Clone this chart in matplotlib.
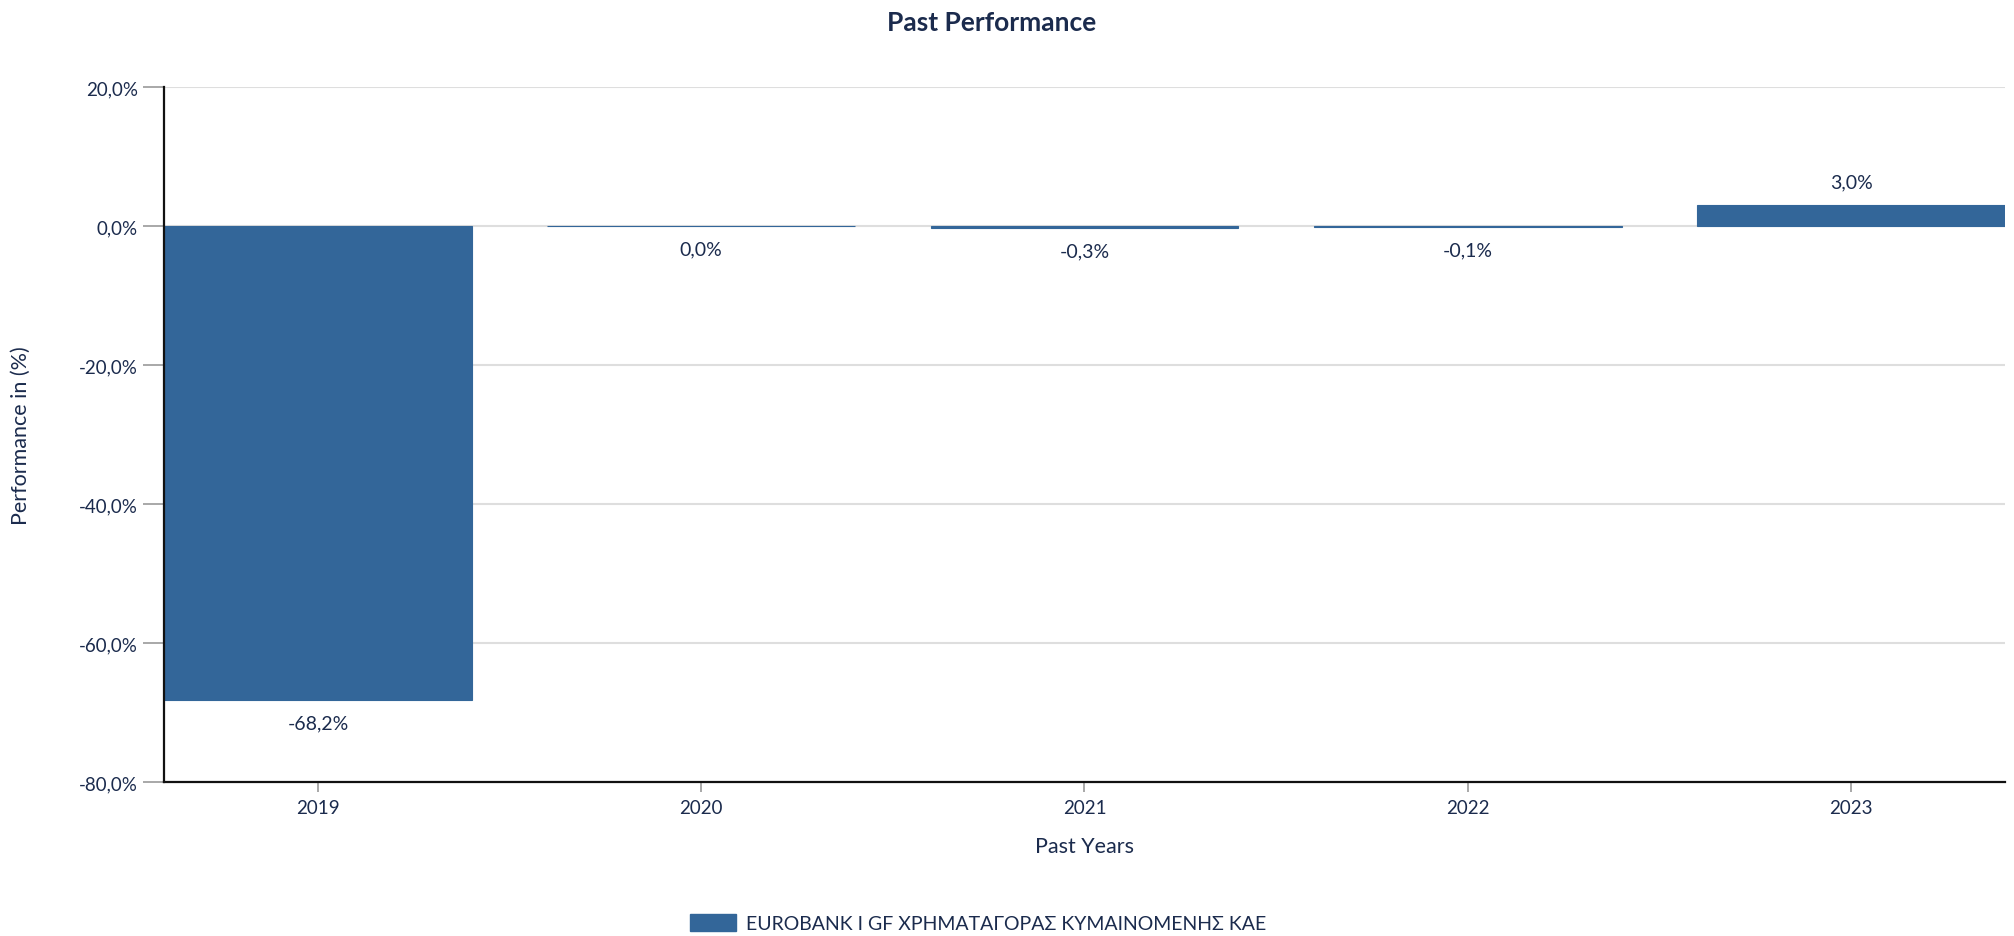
import matplotlib
matplotlib.use("Agg")
import matplotlib.pyplot as plt
from matplotlib.patches import Patch

years = ["2019", "2020", "2021", "2022", "2023"]
values = [-68.2, 0.0, -0.3, -0.1, 3.0]
value_labels = ["-68,2%", "0,0%", "-0,3%", "-0,1%", "3,0%"]
yticks = [20, 0, -20, -40, -60, -80]
ytick_labels = ["20,0%", "0,0%", "-20,0%", "-40,0%", "-60,0%", "-80,0%"]
series_name = "EUROBANK I GF ΧΡΗΜΑΤΑΓΟΡΑΣ ΚΥΜΑΙΝΟΜΕΝΗΣ ΚΑΕ"

plt.rcParams['font.family'] = ['Lato', 'DejaVu Sans']
TXT = "#1b2b4d"
BAR = "#336699"

W, H = 2015, 937
fig = plt.figure(figsize=(W / 100, H / 100), dpi=100)
L, R, T, B = 164, 2005, 88, 783
ax = fig.add_axes([L / W, 1 - B / H, (R - L) / W, (B - T) / H])

bw = 308 / 383.5
x = list(range(len(years)))
ax.bar(x, values, width=bw, color=BAR, edgecolor=BAR, linewidth=0.8, zorder=3)
ax.set_xlim(-bw / 2, len(years) - 1 + bw / 2)
ax.set_ylim(-80, 20)

for xi, v, lab in zip(x, values, value_labels):
    off = 17 if v > 0 else -16.5
    ax.annotate(lab, xy=(xi, v), xytext=(0, off), textcoords="offset points",
                ha="center", va="center", fontsize=14, color=TXT)

ax.set_yticks(yticks)
ax.set_yticklabels(ytick_labels)
ax.set_xticks(x)
ax.set_xticklabels(years)
ax.yaxis.grid(True, color="#dedede", linewidth=1.5, zorder=0)
ax.set_axisbelow(True)
ax.tick_params(axis="y", length=15, width=1.2, color="#999999", pad=4,
               labelsize=13.5, labelcolor=TXT)
ax.tick_params(axis="x", length=7, width=1.2, color="#999999", pad=5,
               labelsize=13.5, labelcolor=TXT)
for s in ["top", "right"]:
    ax.spines[s].set_visible(False)
for s in ["left", "bottom"]:
    ax.spines[s].set_color("#111111")
    ax.spines[s].set_linewidth(1.6)
    ax.spines[s].set_zorder(4)

ax.set_ylabel("Performance in (%)", fontsize=15.5, color=TXT)
ax.yaxis.set_label_coords((31 - L) / (R - L), 0.5)
ax.set_xlabel("Past Years", fontsize=15.5, color=TXT)
ax.xaxis.set_label_coords(0.5, (B - 837) / (B - T))

fig.text(992 / W, 1 - 23 / H, "Past Performance", ha="center", va="center",
         fontsize=19, fontweight="bold", color=TXT)

handles = [Patch(facecolor=BAR, edgecolor=BAR)]
fig.legend(handles, [series_name], loc="center", bbox_to_anchor=(978 / W, 1 - 924 / H),
           frameon=False, fontsize=14, labelcolor=TXT, handlelength=2.4,
           handleheight=1.0, handletextpad=0.5)

fig.savefig("out.png", dpi=100, facecolor="white")
